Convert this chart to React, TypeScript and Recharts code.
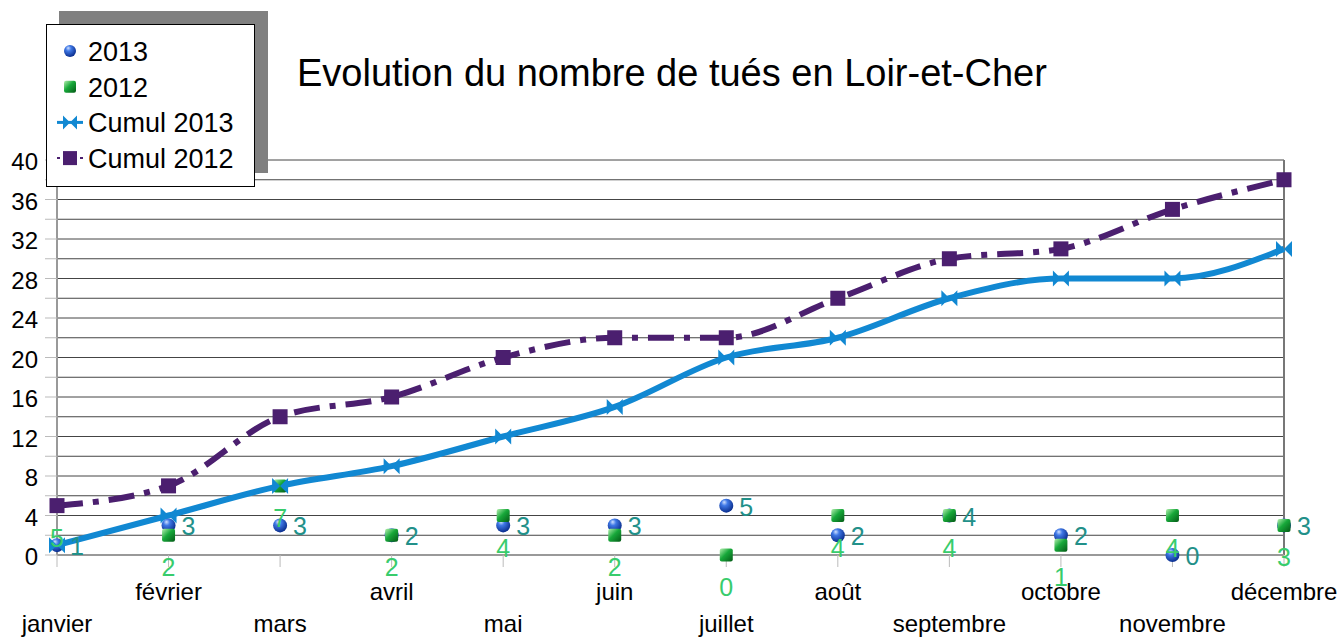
import { LineChart, Line, XAxis, YAxis, CartesianGrid, Legend, ReferenceLine } from "recharts"

const MOIS = ["janvier", "février", "mars", "avril", "mai", "juin", "juillet", "août", "septembre", "octobre", "novembre", "décembre"]
const TUES_2013 = [1, 3, 3, 2, 3, 3, 5, 2, 4, 2, 0, 3]
const TUES_2012 = [5, 2, 7, 2, 4, 2, 0, 4, 4, 1, 4, 3]
const CUMUL_2013 = [1, 4, 7, 9, 12, 15, 20, 22, 26, 28, 28, 31]
const CUMUL_2012 = [5, 7, 14, 16, 20, 22, 22, 26, 30, 31, 35, 38]
const Y_TICKS = [0, 2, 4, 6, 8, 10, 12, 14, 16, 18, 20, 22, 24, 26, 28, 30, 32, 34, 36, 38, 40]

const TITRE = "Evolution du nombre de tués en Loir-et-Cher"

const BLEU = "#1188d2"
const VIOLET = "#4b1f6f"
const VERT_TEXTE = "#38cc6c"
const SARCELLE = "#229089"
const FONT = "'Liberation Sans', Arial, sans-serif"

const data = MOIS.map((mois, i) => ({
    mois,
    t2013: TUES_2013[i],
    t2012: TUES_2012[i],
    c2013: CUMUL_2013[i],
    c2012: CUMUL_2012[i],
}))

const Sphere = ({ cx, cy, r = 7 }: any) => (
    <circle cx={cx} cy={cy} r={r} fill="url(#gradSphere)" />
)

const Cube = ({ cx, cy, s = 13 }: any) => (
    <rect x={cx - s / 2} y={cy - s / 2} width={s} height={s} rx={2} fill="url(#gradCube)" />
)

const Noeud = ({ cx, cy, color = BLEU, w = 8 }: any) => (
    <path
        d={`M${cx - w},${cy - w} L${cx},${cy} L${cx - w},${cy + w} Z M${cx + w},${cy - w} L${cx},${cy} L${cx + w},${cy + w} Z`}
        fill={color}
    />
)

const Carre = ({ cx, cy, s = 15, color = VIOLET }: any) => (
    <rect x={cx - s / 2} y={cy - s / 2} width={s} height={s} fill={color} />
)

const MoisTick = ({ x, y, payload }: any) => {
    const idx = MOIS.indexOf(payload.value)
    const bas = idx % 2 === 0
    return (
        <text x={x} y={y + (bas ? 63 : 31)} textAnchor="middle" fontSize={24} fill="#000" fontFamily={FONT}>
            {payload.value}
        </text>
    )
}

const NombreTick = ({ x, y, payload }: any) => {
    if (payload.value % 4 !== 0) return <g />
    return (
        <text x={x - 5} y={y + 10} textAnchor="end" fontSize={24} fill="#000" fontFamily={FONT}>
            {payload.value}
        </text>
    )
}

const LabelDroite = ({ x, y, value, index }: any) => (
    <text key={`ld-${index}`} x={x + 13} y={y + 10} fontSize={25} fill={SARCELLE} fontFamily={FONT}>
        {value}
    </text>
)

const LabelDessous = ({ x, y, value, index }: any) => (
    <text key={`lb-${index}`} x={x} y={y + 41} textAnchor="middle" fontSize={25} fill={VERT_TEXTE} fontFamily={FONT}>
        {value}
    </text>
)

const LEGENDE = [
    { nom: "2013", icone: "sphere" },
    { nom: "2012", icone: "cube" },
    { nom: "Cumul 2013", icone: "noeud" },
    { nom: "Cumul 2012", icone: "carre" },
]

function Legende() {
    return (
        <svg width={223} height={176} style={{ display: "block" }}>
            <rect x={13} y={0} width={209} height={162} fill="#808080" />
            <rect x={0.5} y={13.5} width={208} height={162} fill="#fff" stroke="#000" />
            {LEGENDE.map((item, i) => {
                const cy = 40 + i * 35.7
                let icone = null
                if (item.icone === "sphere") icone = <Sphere cx={24} cy={cy} r={6} />
                if (item.icone === "cube") icone = <Cube cx={24} cy={cy} s={12} />
                if (item.icone === "noeud")
                    icone = (
                        <g>
                            <line x1={11} x2={37} y1={cy} y2={cy} stroke={BLEU} strokeWidth={3} />
                            <Noeud cx={24} cy={cy} w={7} />
                        </g>
                    )
                if (item.icone === "carre")
                    icone = (
                        <g>
                            <line x1={11} x2={37} y1={cy} y2={cy} stroke={VIOLET} strokeWidth={2} strokeDasharray="3 4 12 4" />
                            <Carre cx={24} cy={cy} s={14} />
                        </g>
                    )
                return (
                    <g key={item.nom}>
                        {icone}
                        <text x={42} y={cy + 10} fontSize={27} fill="#000" fontFamily={FONT}>
                            {item.nom}
                        </text>
                    </g>
                )
            })}
        </svg>
    )
}

export default function App() {
    return (
        <div style={{ position: "absolute", left: 0, top: 0, width: 1342, height: 637, background: "#fff", fontFamily: FONT }}>
            <div style={{ position: "absolute", left: 297, top: 54, fontSize: 38, lineHeight: 1, color: "#000", whiteSpace: "nowrap" }}>
                {TITRE}
            </div>
            <LineChart width={1342} height={637} data={data} margin={{ top: 160, right: 58, bottom: 0, left: 7 }}>
                <defs>
                    <radialGradient id="gradSphere" cx="40%" cy="35%" r="65%" fx="35%" fy="25%">
                        <stop offset="0%" stopColor="#cfe0ff" />
                        <stop offset="35%" stopColor="#3f78e6" />
                        <stop offset="100%" stopColor="#0b2f8f" />
                    </radialGradient>
                    <linearGradient id="gradCube" x1="0" y1="0" x2="1" y2="1">
                        <stop offset="0%" stopColor="#b6f0b0" />
                        <stop offset="45%" stopColor="#17a83a" />
                        <stop offset="100%" stopColor="#045a16" />
                    </linearGradient>
                </defs>
                <CartesianGrid vertical={false} stroke="#444" />
                <XAxis
                    dataKey="mois"
                    interval={0}
                    height={82}
                    tickSize={12}
                    axisLine={{ stroke: "#999", strokeWidth: 2 }}
                    tickLine={{ stroke: "#bbb" }}
                    tick={<MoisTick />}
                />
                <YAxis
                    width={50}
                    domain={[0, 40]}
                    ticks={Y_TICKS}
                    interval={0}
                    tickSize={12}
                    axisLine={{ stroke: "#999", strokeWidth: 2 }}
                    tickLine={{ stroke: "#bbb" }}
                    tick={<NombreTick />}
                />
                <ReferenceLine x="décembre" stroke="#777" strokeWidth={2} />
                <Legend
                    layout="vertical"
                    align="center"
                    verticalAlign="middle"
                    content={() => <Legende />}
                    wrapperStyle={{ position: "absolute", left: 46, top: 11, width: 223, height: 176 }}
                />
                <Line
                    dataKey="t2013"
                    stroke="none"
                    isAnimationActive={false}
                    activeDot={false}
                    dot={(p: any) => <Sphere key={`s-${p.index}`} cx={p.cx} cy={p.cy} />}
                />
                <Line
                    dataKey="t2012"
                    stroke="none"
                    isAnimationActive={false}
                    activeDot={false}
                    dot={(p: any) => <Cube key={`c-${p.index}`} cx={p.cx} cy={p.cy} />}
                />
                <Line
                    type="monotone"
                    dataKey="c2013"
                    stroke={BLEU}
                    strokeWidth={6}
                    isAnimationActive={false}
                    activeDot={false}
                    dot={(p: any) => <Noeud key={`n-${p.index}`} cx={p.cx} cy={p.cy} />}
                />
                <Line
                    type="monotone"
                    dataKey="c2012"
                    stroke={VIOLET}
                    strokeWidth={6}
                    strokeDasharray="26 10 6 10"
                    isAnimationActive={false}
                    activeDot={false}
                    dot={(p: any) => <Carre key={`q-${p.index}`} cx={p.cx} cy={p.cy} />}
                />
                <Line
                    dataKey="t2013"
                    stroke="none"
                    dot={false}
                    activeDot={false}
                    isAnimationActive={false}
                    label={<LabelDroite />}
                />
                <Line
                    dataKey="t2012"
                    stroke="none"
                    dot={false}
                    activeDot={false}
                    isAnimationActive={false}
                    label={<LabelDessous />}
                />
            </LineChart>
        </div>
    )
}
